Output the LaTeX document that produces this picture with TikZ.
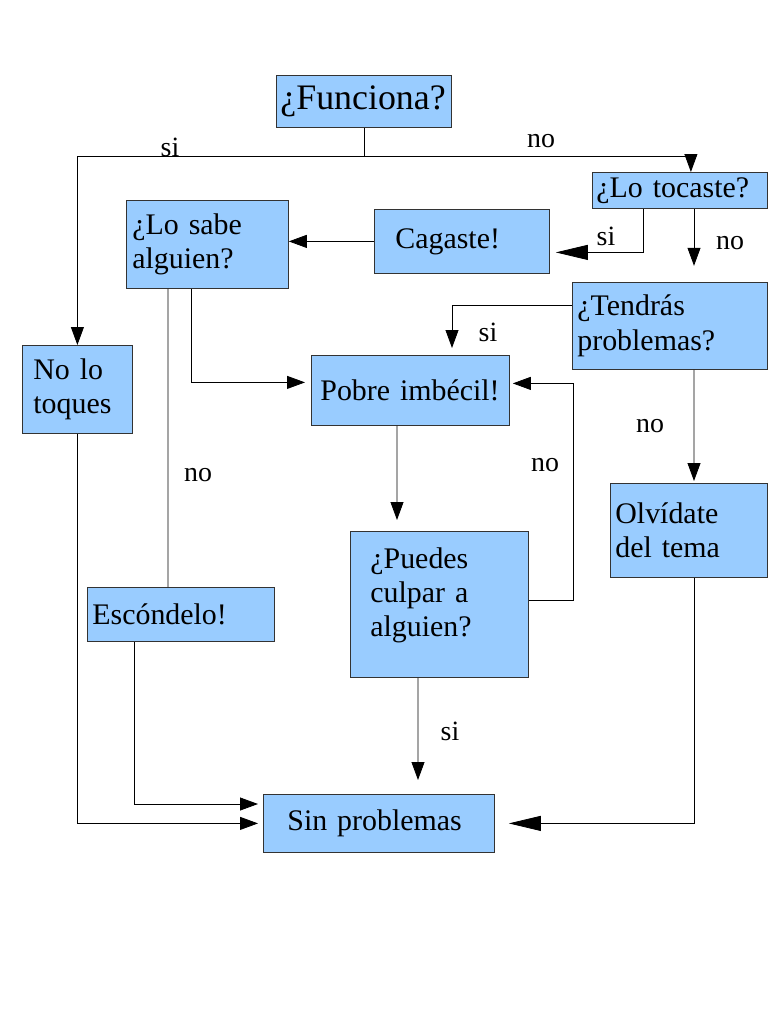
\documentclass[tikz,border=0pt]{standalone}
\usepackage{fontspec}
\setmainfont{Liberation Serif}
\usetikzlibrary{arrows.meta,calc}
\definecolor{celeste}{RGB}{153,204,255}
\begin{document}
\begin{tikzpicture}[x=1bp, y=-1bp, line width=0.8pt,
    caja/.style={draw=black!80, fill=celeste, anchor=north west, align=left, inner ysep=0pt, font=\fontsize{30}{34.5}\selectfont},
    flecha/.style={-{Triangle[length=18bp,width=13bp]}},
    flechagrande/.style={-{Triangle[length=32bp,width=15bp]}},
    etiqueta/.style={font=\fontsize{28}{32}\selectfont}]
    % Page
    \fill[white] (0,0) rectangle (768,1024);
    \useasboundingbox (0,0) rectangle (768,1024);

    % Boxes (placed by their top left corner, in pixels)
    \node[caja, inner xsep=4bp, text width=167bp, minimum height=52bp, font=\fontsize{36}{40}\selectfont] (funciona) at (276,75) {¿Funciona?};
    \node[caja, inner xsep=4bp, text width=167bp, minimum height=36bp] (tocaste) at (592,172) {¿Lo tocaste?};
    \node[caja, inner xsep=6bp, text width=150bp, minimum height=88bp] (sabe) at (126,200) {¿Lo sabe\\alguien?};
    \node[caja, inner xsep=21bp, text width=133bp, minimum height=64bp] (cagaste) at (374,209) {Cagaste!};
    \node[caja, inner xsep=5bp, text width=185bp, minimum height=87bp] (tendras) at (572,282) {¿Tendrás\\problemas?};
    \node[caja, inner xsep=11bp, text width=88bp, minimum height=88bp] (toques) at (22,345) {No lo\\toques};
    \node[caja, inner xsep=9bp, text width=180bp, minimum height=70bp] (pobre) at (311,355) {Pobre imbécil!};
    \node[caja, inner xsep=5bp, text width=147bp, minimum height=94bp] (olvidate) at (610,483) {Olvídate\\del tema};
    \node[caja, inner xsep=20bp, text width=138bp, minimum height=146bp] (puedes) at (350,531) {¿Puedes\\culpar a\\alguien?\\[-10bp]\mbox{}};
    \node[caja, inner xsep=5bp, text width=177bp, minimum height=54bp] (escondelo) at (87,587) {Escóndelo!};
    \node[caja, inner xsep=24bp, text width=183bp, minimum height=58bp] (sinprob) at (263,794) {Sin problemas};

    % Connectors
    \draw (funciona.south) -- ++(0,29) coordinate (reparto);
    \draw[flecha] (reparto) -| (toques.north);
    \draw[flecha] (reparto) -| ([xshift=11bp]tocaste.north);
    \draw[flechagrande] ([xshift=51bp]tocaste.south west) |- ([xshift=6bp,yshift=-11bp]cagaste.east);
    \draw[flecha] ([xshift=102bp]tocaste.south west) -- ++(0,57) coordinate (tocno);
    \draw[flecha] (cagaste.west) -- (cagaste.west -| sabe.east);
    \draw ([xshift=42bp]sabe.south west) -- ([xshift=81bp]escondelo.north west);
    \draw[flecha] ([xshift=65bp]sabe.south west) |- ([xshift=-6bp,yshift=8bp]pobre.west);
    \draw[flecha] ([yshift=-23bp]tendras.north west) -| ([xshift=141bp,yshift=7bp]pobre.north west);
    \draw[flecha] ([xshift=122bp]tendras.south west) -- ([xshift=84bp,yshift=2bp]olvidate.north west);
    \draw[flecha] ([xshift=86bp]pobre.south west) -- ([xshift=47bp,yshift=11bp]puedes.north west);
    \draw[flecha] ([yshift=-69bp]puedes.north east) -- ++(45,0) |- ([xshift=3bp,yshift=7bp]pobre.east);
    \draw[flecha] ([xshift=68bp]puedes.south west) -- ([xshift=155bp,yshift=14bp]sinprob.north west);
    \draw[flecha] ([xshift=47bp]escondelo.south west) |- ([xshift=-5bp,yshift=-10bp]sinprob.north west);
    \draw[flecha] (toques.south) |- ([xshift=-5bp]sinprob.west);
    \draw[flechagrande] ([xshift=84bp]olvidate.south west) |- ([xshift=14bp]sinprob.east);

    % Labels
    \node[etiqueta] (lsi1) at (170,147) {si};
    \node[etiqueta] (lno1) at (541,141) {no};
    \node[etiqueta] (lsi2) at (606,236) {si};
    \node[etiqueta] (lno2) at (730,243) {no};
    \node[etiqueta] (lno3) at (198,475) {no};
    \node[etiqueta] (lsi3) at (488,332) {si};
    \node[etiqueta] (lno4) at (650,426) {no};
    \node[etiqueta] (lno5) at (545,465) {no};
    \node[etiqueta] (lsi4) at (450,731) {si};
\end{tikzpicture}
\end{document}
